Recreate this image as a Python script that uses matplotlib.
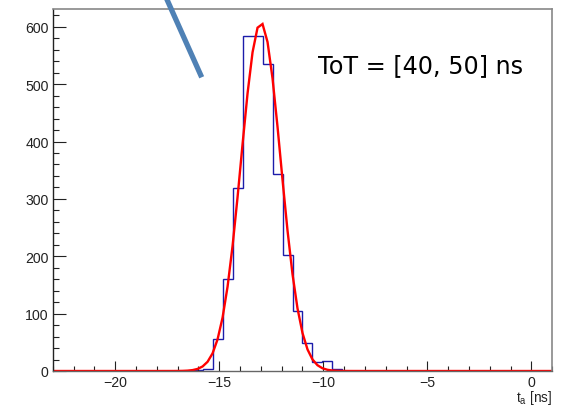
import numpy as np
import matplotlib
matplotlib.use("Agg")
import matplotlib.pyplot as plt
from matplotlib.lines import Line2D
from matplotlib.ticker import MultipleLocator

# ---- data ----
x_min, x_max, n_bins = -23.0, 1.0, 50
counts = [0] * 14 + [1, 4, 55, 161, 319, 584, 584, 536, 343, 202, 104, 48, 16, 18, 3] + [0] * 21
fit_amplitude = 607.0
fit_mean = -13.0
fit_sigma = 0.95
annotation = "ToT = [40, 50] ns"
x_label = r"t$_\mathregular{a}$ [ns]"
x_major_ticks = [-20, -15, -10, -5, 0]
y_major_ticks = [0, 100, 200, 300, 400, 500, 600]
y_max = 631

edges = np.linspace(x_min, x_max, n_bins + 1)
fx = np.linspace(x_min, x_max, 101)
fy = fit_amplitude * np.exp(-0.5 * ((fx - fit_mean) / fit_sigma) ** 2)

plt.rcParams['font.family'] = ['Liberation Sans', 'DejaVu Sans']
fig = plt.figure(figsize=(5.62, 4.06), dpi=100)
ax = fig.add_axes([52.7 / 562, 1 - 372 / 406, (552.3 - 52.7) / 562, (372 - 10) / 406])

ax.stairs(counts, edges, color='#1c1caa', linewidth=1.0, baseline=0)
ax.plot(fx, fy, color='#ff0000', linewidth=1.7, solid_joinstyle='miter')

ax.set_xlim(x_min, x_max)
ax.set_ylim(0, y_max)
ax.set_xticks(x_major_ticks)
ax.set_yticks(y_major_ticks)
ax.xaxis.set_minor_locator(MultipleLocator(1))
ax.yaxis.set_minor_locator(MultipleLocator(20))
ax.set_xticklabels([f"\u2212{abs(v)}" if v < 0 else str(v) for v in x_major_ticks])

ax.tick_params(axis='both', which='both', direction='in', top=False, right=False,
               colors='#222222', width=0.8, labelsize=10.2)
ax.tick_params(axis='y', which='major', length=9.5, pad=3)
ax.tick_params(axis='y', which='minor', length=4.5)
ax.tick_params(axis='x', which='major', length=7, pad=3)
ax.tick_params(axis='x', which='minor', length=3.5)

for s in ['top', 'right']:
    ax.spines[s].set_color('#888888')
    ax.spines[s].set_linewidth(1.2)
ax.spines['left'].set_color('#222222')
ax.spines['left'].set_linewidth(1.0)
ax.spines['bottom'].set_color('#666666')
ax.spines['bottom'].set_linewidth(1.0)

fig.text(552 / 562, 1 - 402 / 406, x_label, fontsize=9.8, ha='right', va='baseline',
         color='#222222')

fig.text(318 / 562, 1 - 72.7 / 406, annotation, fontsize=17.2,
         family='DejaVu Sans', ha='left', va='baseline', color='black')

fig.add_artist(Line2D([164.5 / 562, 201.7 / 562], [1 + 5 / 406, 1 - 78.3 / 406],
                      transform=fig.transFigure, color='#4f81b5', linewidth=3.8,
                      solid_capstyle='butt'))

fig.savefig("out.png", dpi=100)
